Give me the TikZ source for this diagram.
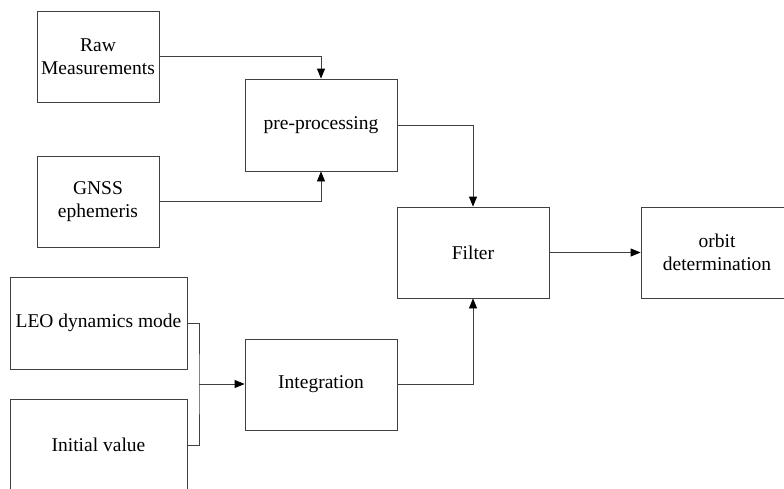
\documentclass[tikz,border=0pt]{standalone}
\usepackage{fontspec}
\setmainfont{Liberation Serif}
\usetikzlibrary{arrows.meta}
\begin{document}
\begin{tikzpicture}[x=1pt,y=-1pt,
  box/.style={draw=black!75, line width=0.8pt, inner sep=0pt, align=center,
    font=\fontsize{19.5}{23}\selectfont},
  conn/.style={draw=black!75, line width=0.8pt},
  arr/.style={conn, -{Triangle[length=10pt,width=8pt,fill=black,color=black]}}]
\useasboundingbox (0,0) rectangle (784,488);
\begin{scope}
\clip (0,0) rectangle (784,488);
\node[box, minimum width=122pt, minimum height=91pt] (raw) at (98,56.5) {Raw\\Measurements};
\node[box, minimum width=122pt, minimum height=91pt] (gnss) at (98,201.5) {GNSS\\ephemeris};
\node[box, minimum width=152pt, minimum height=92pt] (pre) at (321,125) {pre-processing};
\node[box, minimum width=152pt, minimum height=91pt] (filter) at (473,252.5) {Filter};
\node[box, minimum width=152pt, minimum height=91pt] (orbit) at (717,252.5) {orbit\\determination};
\node[box, minimum width=177pt, minimum height=92pt] (leo) at (98.5,323) {LEO dynamics mode};
\node[box, minimum width=177pt, minimum height=92pt] (init) at (98.5,445) {Initial value};
\node[box, minimum width=152pt, minimum height=91pt] (integ) at (321,384.5) {Integration};
\end{scope}
\coordinate (j) at (199,384);
\draw[arr] (raw.east) -| (pre.north);
\draw[arr] (gnss.east) -| (pre.south);
\draw[arr] (pre.east) -| (filter.north);
\draw[arr] (filter.east) -- (orbit.west);
\draw[conn] (leo.east) -| (j) |- (init.east);
\draw[arr] (j) -- (integ.west |- j);
\draw[arr] (integ.east) -| (filter.south);
\end{tikzpicture}
\end{document}
